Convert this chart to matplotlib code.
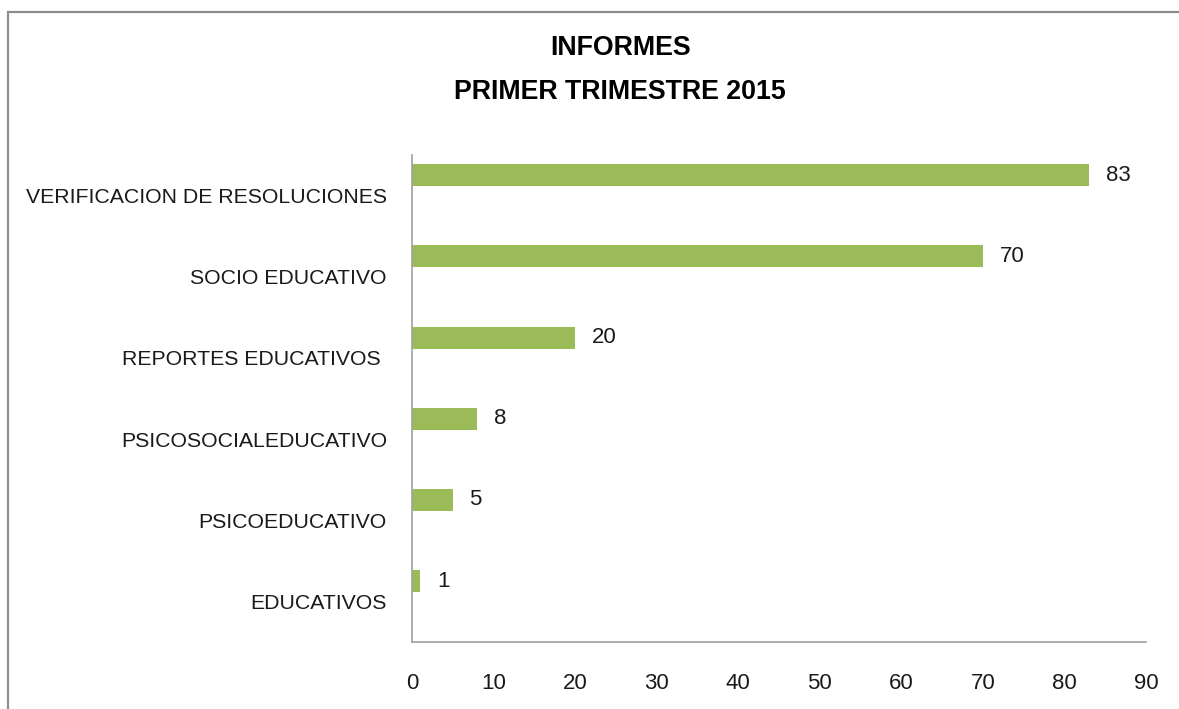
import matplotlib
matplotlib.use('Agg')
import matplotlib.pyplot as plt
from matplotlib.patches import Rectangle

categories = ['EDUCATIVOS', 'PSICOEDUCATIVO', 'PSICOSOCIALEDUCATIVO',
              'REPORTES EDUCATIVOS ', 'SOCIO EDUCATIVO', 'VERIFICACION DE RESOLUCIONES']
values = [1, 5, 8, 20, 70, 83]
xticks = [0, 10, 20, 30, 40, 50, 60, 70, 80, 90]

plt.rcParams['font.family'] = ['Liberation Sans', 'DejaVu Sans']

fig = plt.figure(figsize=(11.79, 7.09), dpi=100)
ax = fig.add_axes([0.3494, 0.0945, 0.6226, 0.687])

ys = [i + 0.25 for i in range(len(categories))]
ax.barh(ys, values, height=0.27, color='#9BBB59')

for y, v in zip(ys, values):
    ax.annotate(str(v), (v, y), xytext=(12, 0), textcoords='offset points',
                va='center', ha='left', fontsize=16, color='#1a1a1a')

ax.set_xlim(0, 90)
ax.set_ylim(-0.5, len(categories) - 0.5)
ax.set_xticks(xticks)
ax.set_yticks(range(len(categories)))
ax.set_yticklabels(categories, fontsize=15.3)
ax.tick_params(axis='both', length=0, colors='#1a1a1a')
ax.tick_params(axis='x', labelsize=16, pad=22)
ax.tick_params(axis='y', pad=18)

for s in ['top', 'right']:
    ax.spines[s].set_visible(False)
for s in ['left', 'bottom']:
    ax.spines[s].set_color('#a0a0a0')
    ax.spines[s].set_linewidth(1.2)

fig.text(0.526, 0.932, 'INFORMES', ha='center', va='center', fontsize=19.3, fontweight='bold')
fig.text(0.526, 0.870, 'PRIMER TRIMESTRE 2015', ha='center', va='center', fontsize=19.3, fontweight='bold')

fig.patches.append(Rectangle((0.0068, -0.1), 1.1, 1.083, transform=fig.transFigure,
                             fill=False, edgecolor='#8c8c8c', linewidth=1.6, clip_on=False))

fig.savefig('out.png', dpi=100)
